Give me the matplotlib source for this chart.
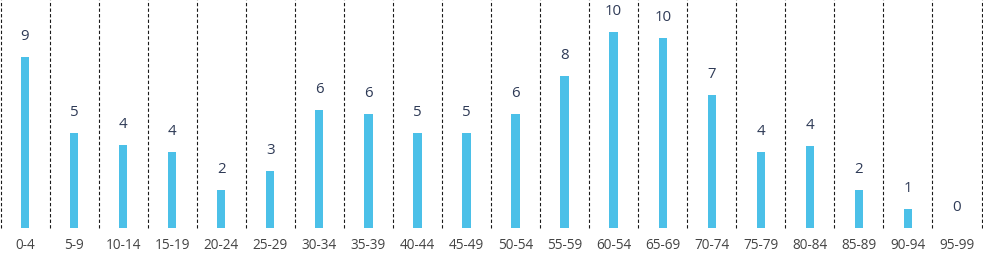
import matplotlib
matplotlib.use("Agg")
import matplotlib.pyplot as plt
import numpy as np

# age bands and counts (bar heights, labels rounded)
age_bands = ["0-4", "5-9", "10-14", "15-19", "20-24", "25-29", "30-34", "35-39",
             "40-44", "45-49", "50-54", "55-59", "60-54", "65-69", "70-74",
             "75-79", "80-84", "85-89", "90-94", "95-99"]
counts = [9.0, 5.0, 4.4, 4.0, 2.0, 3.0, 6.2, 6.0, 5.0, 5.0,
          6.0, 8.0, 10.3, 10.0, 7.0, 4.0, 4.3, 2.0, 1.0, 0.0]

BAR_COLOR = "#4BC0E8"
VALUE_COLOR = "#2E3A56"
TICK_COLOR = "#444444"

plt.rcParams["font.family"] = ["Open Sans", "DejaVu Sans"]

W, H = 983, 254
fig = plt.figure(figsize=(W / 100, H / 100), dpi=100)
ax = fig.add_axes([0.5 / W, (H - 228.3) / H, 981 / W, 228.3 / H])

x = np.arange(len(age_bands))
ax.bar(x, counts, width=0.17, color=BAR_COLOR, zorder=2)

for xi, v in zip(x, counts):
    ax.annotate(f"{v:.0f}", (xi, v), xytext=(0, 13), textcoords="offset pixels",
                ha="center", va="bottom", fontsize=10.8, color=VALUE_COLOR)

# dashed separators between categories
for b in np.arange(-0.5, len(age_bands), 1.0):
    ax.axvline(b, color="#1a1a1a", lw=0.8, linestyle=(0, (3, 2)), clip_on=False, zorder=1)

ax.set_xlim(-0.5, len(age_bands) - 0.5)
ax.set_ylim(0, 12)
ax.set_xticks(x)
ax.set_xticklabels(age_bands, fontsize=9.8, color=TICK_COLOR)
ax.tick_params(axis="x", length=0, pad=7)
ax.set_yticks([])
for s in ax.spines.values():
    s.set_visible(False)

fig.savefig("out.png", dpi=100)
